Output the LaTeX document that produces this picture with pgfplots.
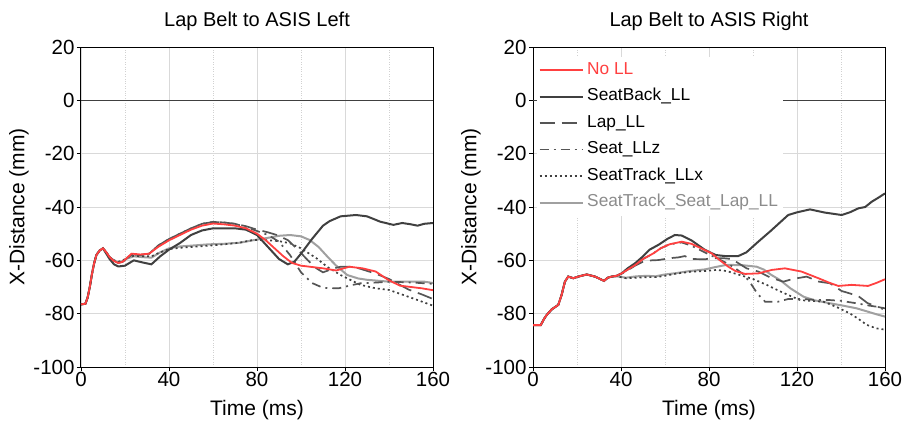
\documentclass[border=0pt]{standalone}
\usepackage{fontspec}
\setmainfont{Liberation Sans}
\usepackage{pgfplots}
\pgfplotsset{compat=1.18}
\definecolor{cred}{RGB}{255,64,64}
\definecolor{cdark}{RGB}{64,64,64}
\definecolor{cdash}{RGB}{85,85,85}
\definecolor{clight}{RGB}{160,160,160}
\pgfplotsset{
  myax/.style={
    scale only axis, width=352pt, height=320pt, anchor=south west,
    xmin=0, xmax=160, ymin=-100, ymax=20,
    xtick={0,40,80,120,160}, minor xtick={20,60,100,140},
    ytick={-100,-80,-60,-40,-20,0,20},
    grid=both,
    major grid style={draw=black!15, line width=0.8pt},
    minor grid style={draw=black!18, dotted, line width=0.6pt},
    axis line style={draw=black, line width=1pt},
    tick align=outside, xtick pos=bottom, ytick pos=left,
    major tick length=4pt, minor tick length=0pt,
    tick style={draw=black, line width=0.8pt},
    /pgf/number format/assume math mode=true,
    ticklabel style={font=\fontsize{20.5}{24}\selectfont},
    xticklabel style={yshift=2pt},
    yticklabel style={xshift=1pt},
    title style={font=\fontsize{20}{24}\selectfont, anchor=base, at={(0.5,1)}, yshift=15pt},
    xlabel style={font=\fontsize{21}{25}\selectfont, anchor=base, at={(0.5,0)}, yshift=-48pt},
    ylabel style={font=\fontsize{21}{25}\selectfont, anchor=south, at={([xshift=-52pt]axis description cs:0,0.5)}, inner sep=0pt},
    xlabel={Time (ms)}, ylabel={X-Distance (mm)},
    legend image code/.code={\draw[#1] (0pt,0pt) -- (43pt,0pt);},
  },
  sNo/.style={draw=cred, line width=1.8pt},
  sSB/.style={draw=cdark, line width=2pt},
  sLap/.style={draw=cdash, line width=1.7pt, dash pattern=on 15pt off 7pt},
  sSeat/.style={draw=cdash, line width=1.7pt, dash pattern=on 9pt off 5pt on 2pt off 5pt},
  sTrk/.style={draw=cdark, line width=1.7pt, dash pattern=on 2pt off 3pt},
  sAll/.style={draw=clight, line width=2pt},
}
\begin{document}
\begin{tikzpicture}
\path[use as bounding box] (0pt,0pt) rectangle (903pt,-423pt);
% ---------------- LEFT ----------------
\begin{axis}[myax, at={(81pt,-367pt)}, title={Lap Belt to ASIS Left}]
\addplot[draw=cdark, line width=1.2pt, forget plot] coordinates {(0,0)(160,0)};
\addplot[sAll] coordinates {(0,-76.5)(2,-76.3)(3,-74)(4,-70)(5,-65)(6,-61)(7,-58)(8.5,-56.3)(10,-55.5)(11.5,-57)(13,-58.8)(15,-60)(17,-60.8)(19,-60.3)(21,-59.3)(24,-58.5)(28,-58.8)(32,-59)(36,-57)(40,-55.5)(45,-54.8)(50,-54.5)(58,-54)(65,-53.8)(72,-53.4)(78,-52.5)(84,-51.7)(90,-50.8)(95,-50.5)(100,-51)(104,-52.4)(108,-55)(112,-58.6)(116,-62)(121,-65.5)(126,-66.8)(130,-67.3)(140,-68)(150,-68)(156,-68)(160,-68.5)};
\addplot[sTrk] coordinates {(0,-76.5)(2,-76.3)(3,-74)(4,-70)(5,-65)(6,-61)(7,-58)(8.5,-56.3)(10,-55.5)(11.5,-57)(13,-58.8)(15,-60)(17,-60.5)(19,-60)(21,-59)(24,-58.3)(28,-58.5)(32,-58.5)(36,-57)(40,-55.8)(45,-55.3)(50,-55)(58,-54.5)(65,-54)(72,-53.4)(78,-52.4)(84,-52.4)(90,-52.8)(95,-53.6)(100,-55.5)(107,-59.2)(112,-62.5)(118,-65.5)(127,-69.2)(134,-70.5)(140,-71.1)(150,-74)(160,-77)};
\addplot[sSeat] coordinates {(0,-76.5)(2,-76.3)(3,-74)(4,-70)(5,-65)(6,-61)(7,-58)(8.5,-56.3)(10,-55.5)(11.5,-57)(13,-58.8)(15,-60.3)(17,-61)(19,-60.5)(21,-59)(23,-57.8)(27,-58)(31,-57.5)(35,-54.5)(40,-52)(45,-50)(50,-48)(55,-46.3)(60,-45.6)(65,-45.8)(70,-46.3)(75,-47.5)(80,-49)(85,-50.5)(90,-53)(95,-58)(100,-64.5)(105,-68.5)(110,-70.3)(117,-70.5)(122,-69.5)(127,-68.6)(135,-68.3)(140,-68)(150,-68.3)(160,-68.8)};
\addplot[sLap] coordinates {(0,-76.5)(2,-76.3)(3,-74)(4,-70)(5,-65)(6,-61)(7,-58)(8.5,-56.3)(10,-55.5)(11.5,-57)(13,-58.8)(15,-60.3)(17,-61)(19,-60.5)(21,-59)(23,-58)(27,-58)(31,-57.5)(35,-54.5)(40,-52)(45,-50)(50,-48)(55,-46.3)(60,-45.6)(65,-45.8)(70,-46.3)(75,-47.2)(80,-48.5)(85,-49.5)(89,-50.5)(94,-52.4)(98,-55.5)(103,-59.9)(107,-63)(110,-64.5)(115,-63)(118,-62.4)(124,-62.4)(134,-65)(140,-67)(149,-71)(155,-72.8)(160,-74.5)};
\addplot[sSB] coordinates {(0,-76.5)(2,-76.3)(3,-74)(4,-70)(5,-65)(6,-61)(7,-58)(8.5,-56.3)(10,-55.5)(11.5,-57.5)(13,-59.5)(15,-61.5)(17,-62.3)(20,-62)(24,-60)(28,-60.8)(32,-61.5)(36,-58.5)(40,-56)(45,-53.5)(50,-50.5)(55,-48.8)(60,-48)(65,-48)(70,-48)(75,-48.5)(80,-50.5)(85,-55)(90,-59.5)(94,-61.5)(97,-60.5)(100,-57.5)(105,-52)(110,-47)(113,-45.3)(118,-43.5)(125,-43)(130,-43.5)(136,-45.5)(142,-46.7)(146,-46)(150,-46.5)(153,-47)(156,-46.3)(160,-46)};
\addplot[sNo] coordinates {(0,-76.5)(2,-76.3)(3,-74)(4,-70)(5,-65)(6,-61)(7,-58)(8.5,-56.3)(10,-55.5)(11.5,-57)(13,-58.8)(15,-60.3)(17,-61)(19,-60.5)(21,-59)(23,-57.5)(27,-57.8)(31,-57.5)(35,-55)(40,-52.5)(45,-50.5)(50,-48.5)(55,-47)(60,-46.2)(65,-46.5)(70,-47)(75,-48)(80,-50)(84,-52.5)(88,-55.5)(92,-58.5)(96,-61)(100,-62)(105,-62.5)(110,-63)(116,-63.8)(122,-62.4)(128,-63)(134,-64.2)(140,-67.5)(145,-69.5)(150,-70)(155,-70.5)(160,-71.2)};
\end{axis}
% ---------------- RIGHT ----------------
\begin{axis}[myax, at={(533pt,-367pt)}, title={Lap Belt to ASIS Right},
  legend style={at={(0.01,0.97)}, anchor=north west, draw=none, fill=white,
    font=\fontsize{17.3}{20}\selectfont, inner xsep=2pt, inner ysep=0pt,
    nodes={text height=12.5pt, text depth=4pt, inner ysep=5pt, inner xsep=3.5pt}},
  legend cell align=left]
\addplot[draw=cdark, line width=1.2pt, forget plot] coordinates {(0,0)(160,0)};
\addlegendimage{sNo}\addlegendentry{\textcolor{cred}{No LL}}
\addlegendimage{sSB}\addlegendentry{SeatBack\_LL}
\addlegendimage{sLap}\addlegendentry{Lap\_LL}
\addlegendimage{sSeat}\addlegendentry{Seat\_LLz}
\addlegendimage{sTrk}\addlegendentry{SeatTrack\_LLx}
\addlegendimage{sAll}\addlegendentry{\textcolor{black!45}{SeatTrack\_Seat\_Lap\_LL}}
\addplot[sAll, forget plot] coordinates {(0,-84.3)(3.5,-84.3)(5,-82)(6.2,-80.5)(8.5,-78.4)(11.5,-76.7)(13,-73)(14.5,-68)(16,-66.1)(18.3,-66.7)(21,-66)(24.4,-65.3)(28.2,-66.1)(30,-66.8)(32.3,-67.7)(34,-66.5)(35.8,-66.1)(38,-66)(42.3,-66.5)(47,-66)(52,-65.8)(55.7,-66)(60,-65.3)(65,-64.8)(71.4,-64)(78.2,-63.4)(83,-62.5)(88,-61.7)(95,-61.8)(101.7,-62.4)(105,-63.5)(108,-65.3)(112.3,-67.4)(117,-70.5)(122.9,-73.6)(128,-75)(135,-76.1)(141,-77)(147.1,-78)(152,-79.2)(156,-80.2)(160,-81.1)};
\addplot[sTrk, forget plot] coordinates {(0,-84.3)(3.5,-84.3)(5,-82)(6.2,-80.5)(8.5,-78.4)(11.5,-76.7)(13,-73)(14.5,-68)(16,-66.1)(18.3,-66.7)(21,-66)(24.4,-65.3)(28.2,-66.1)(30,-66.8)(32.3,-67.7)(34,-66.5)(35.8,-66.1)(38,-66)(42.3,-66.7)(47,-66.5)(52,-66.3)(55.7,-66.3)(60,-65.8)(65,-65)(71.4,-64.3)(78.2,-64)(83.5,-63.6)(88,-64)(94,-65.5)(100,-67)(106.2,-69.2)(112,-71.5)(116,-73)(121.4,-74.9)(126,-75.2)(132,-75.5)(138,-77.5)(144,-79.9)(148,-82)(151.7,-84.2)(156,-85.5)(160,-86)};
\addplot[sSeat, forget plot] coordinates {(0,-84.3)(3.5,-84.3)(5,-82)(6.2,-80.5)(8.5,-78.4)(11.5,-76.7)(13,-73)(14.5,-68)(16,-66.1)(18.3,-66.7)(21,-66)(24.4,-65.3)(28.2,-66.1)(30,-66.8)(32.3,-67.7)(34,-66.5)(35.8,-66.1)(38,-65.8)(40.3,-64.9)(46.4,-61.8)(50,-59.5)(54.7,-57.4)(58,-55.5)(62,-54)(67.6,-53.3)(72,-54.5)(78,-57)(83,-59)(88,-61)(92,-63)(96,-65.5)(99.4,-69.2)(102,-72.5)(105.5,-75.5)(111.5,-75.5)(116,-74.5)(122,-74.5)(128,-74.8)(135,-74.9)(140,-75.2)(147,-76.1)(153,-77)(156.2,-77.4)(160,-78.5)};
\addplot[sLap, forget plot] coordinates {(0,-84.3)(3.5,-84.3)(5,-82)(6.2,-80.5)(8.5,-78.4)(11.5,-76.7)(13,-73)(14.5,-68)(16,-66.1)(18.3,-66.7)(21,-66)(24.4,-65.3)(28.2,-66.1)(30,-66.8)(32.3,-67.7)(34,-66.5)(35.8,-66.1)(38,-65.8)(40.3,-65)(43,-63.8)(46.4,-62)(50,-60.5)(54,-60)(57,-59.9)(62,-59.2)(66,-58.9)(69,-58.4)(72,-59.5)(78.2,-59.6)(81.2,-59.2)(86.5,-59.2)(90.3,-59.5)(97.1,-63)(102.4,-64.2)(108,-66.5)(113.8,-68)(118,-67)(124.4,-66.1)(130,-68)(135,-68.6)(140.3,-71.5)(144,-72.4)(148,-73.5)(152,-76)(156.2,-77.4)(160,-78)};
\addplot[sSB, forget plot] coordinates {(0,-84.3)(3.5,-84.3)(5,-82)(6.2,-80.5)(8.5,-78.4)(11.5,-76.7)(13,-73)(14.5,-68)(16,-66.1)(18.3,-66.7)(21,-66)(24.4,-65.3)(28.2,-66.1)(30,-66.8)(32.3,-67.7)(34,-66.5)(35.8,-66.1)(38,-65.8)(40.3,-64.9)(43,-63)(46.4,-61.1)(50,-58.5)(53,-56)(57,-54.2)(61,-52)(64.5,-50.5)(67.6,-50.7)(72,-52.5)(78,-56)(83,-58)(87.3,-58.4)(93.3,-58.4)(97,-57)(102.4,-53)(108,-49)(112,-46)(116,-43)(120,-42)(125.9,-40.9)(132.7,-42.1)(140.3,-43)(144,-42)(147.9,-40.5)(151,-40)(154,-38)(157,-36.5)(160,-34.9)};
\addplot[sNo, forget plot] coordinates {(0,-84.3)(3.5,-84.3)(5,-82)(6.2,-80.5)(8.5,-78.4)(11.5,-76.7)(13,-73)(14.5,-68)(16,-66.1)(18.3,-66.7)(21,-66)(24.4,-65.3)(28.2,-66.1)(30,-66.8)(32.3,-67.7)(34,-66.5)(35.8,-66.1)(38,-65.8)(40.3,-64.9)(43,-63.5)(46.4,-61.8)(50,-59.5)(54.7,-57.4)(58,-55.5)(62,-54)(67.6,-53)(72,-53.8)(78,-56.1)(81.2,-57.4)(85,-60)(88.8,-62.4)(92,-64)(96.4,-65.1)(102.4,-64.9)(108.5,-63.6)(114.5,-63)(122,-64.2)(129.7,-66.7)(135,-68.5)(138.8,-69.6)(144.8,-69.2)(152.3,-69.6)(156,-68.5)(160,-67.1)};
\end{axis}
\end{tikzpicture}
\end{document}
